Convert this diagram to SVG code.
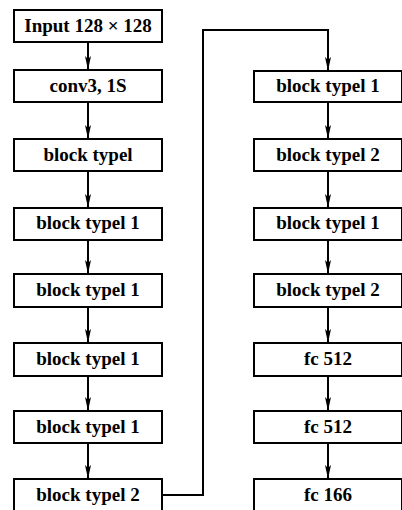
<svg xmlns="http://www.w3.org/2000/svg" width="402" height="510" viewBox="0 0 402 510">
<style>
.box{fill:#fff;stroke:#000;stroke-width:2}
.lbl{font-family:"Liberation Serif","DejaVu Serif",serif;font-size:19px;font-weight:bold;text-anchor:middle;fill:#000}
.con{fill:none;stroke:#000;stroke-width:2}
</style>
<g id="connectors">
<path class="con" d="M88,42 V69"/>
<path class="con" d="M88,102 V138"/>
<path class="con" d="M88,171 V207"/>
<path class="con" d="M88,240 V273"/>
<path class="con" d="M88,307 V342"/>
<path class="con" d="M88,376 V410"/>
<path class="con" d="M88,443 V478"/>
<path class="con" d="M162,495 H203 V30 H328 V70"/>
<path class="con" d="M328,102 V138"/>
<path class="con" d="M328,171 V207"/>
<path class="con" d="M328,240 V273"/>
<path class="con" d="M328,307 V342"/>
<path class="con" d="M328,376 V410"/>
<path class="con" d="M328,443 V478"/>
</g>
<g id="arrowheads" fill="#000">
<path d="M85,56 L88,59 L91,56 L88,70 Z"/>
<path d="M85,125 L88,128 L91,125 L88,139 Z"/>
<path d="M85,194 L88,197 L91,194 L88,208 Z"/>
<path d="M85,260 L88,263 L91,260 L88,274 Z"/>
<path d="M85,329 L88,332 L91,329 L88,343 Z"/>
<path d="M85,397 L88,400 L91,397 L88,411 Z"/>
<path d="M85,465 L88,468 L91,465 L88,479 Z"/>
<path d="M325,57 L328,60 L331,57 L328,71 Z"/>
<path d="M325,125 L328,128 L331,125 L328,139 Z"/>
<path d="M325,194 L328,197 L331,194 L328,208 Z"/>
<path d="M325,260 L328,263 L331,260 L328,274 Z"/>
<path d="M325,329 L328,332 L331,329 L328,343 Z"/>
<path d="M325,397 L328,400 L331,397 L328,411 Z"/>
<path d="M325,465 L328,468 L331,465 L328,479 Z"/>
</g>
<g id="n_input"><rect class="box" x="14" y="10" width="148" height="32"/><text class="lbl" x="88" y="32">Input 128 × 128</text></g>
<g id="n_conv"><rect class="box" x="14" y="70" width="148" height="32"/><text class="lbl" x="88" y="92">conv3, 1S</text></g>
<g id="n_l3"><rect class="box" x="14" y="139" width="148" height="32"/><text class="lbl" x="88" y="161">block typel</text></g>
<g id="n_l4"><rect class="box" x="14" y="208" width="148" height="32"/><text class="lbl" x="88" y="229">block typel 1</text></g>
<g id="n_l5"><rect class="box" x="14" y="274" width="148" height="33"/><text class="lbl" x="88" y="296">block typel 1</text></g>
<g id="n_l6"><rect class="box" x="14" y="343" width="148" height="33"/><text class="lbl" x="88" y="365">block typel 1</text></g>
<g id="n_l7"><rect class="box" x="14" y="411" width="148" height="32"/><text class="lbl" x="88" y="433">block typel 1</text></g>
<g id="n_l8"><rect class="box" x="14" y="479" width="148" height="33"/><text class="lbl" x="88" y="501">block typel 2</text></g>
<g id="n_r1"><rect class="box" x="254" y="71" width="148" height="31"/><text class="lbl" x="328" y="92">block typel 1</text></g>
<g id="n_r2"><rect class="box" x="254" y="139" width="148" height="32"/><text class="lbl" x="328" y="161">block typel 2</text></g>
<g id="n_r3"><rect class="box" x="254" y="208" width="148" height="32"/><text class="lbl" x="328" y="229">block typel 1</text></g>
<g id="n_r4"><rect class="box" x="254" y="274" width="148" height="33"/><text class="lbl" x="328" y="296">block typel 2</text></g>
<g id="n_r5"><rect class="box" x="254" y="343" width="148" height="33"/><text class="lbl" x="328" y="365">fc 512</text></g>
<g id="n_r6"><rect class="box" x="254" y="411" width="148" height="32"/><text class="lbl" x="328" y="433">fc 512</text></g>
<g id="n_r7"><rect class="box" x="254" y="479" width="148" height="33"/><text class="lbl" x="328" y="501">fc 166</text></g>
</svg>
